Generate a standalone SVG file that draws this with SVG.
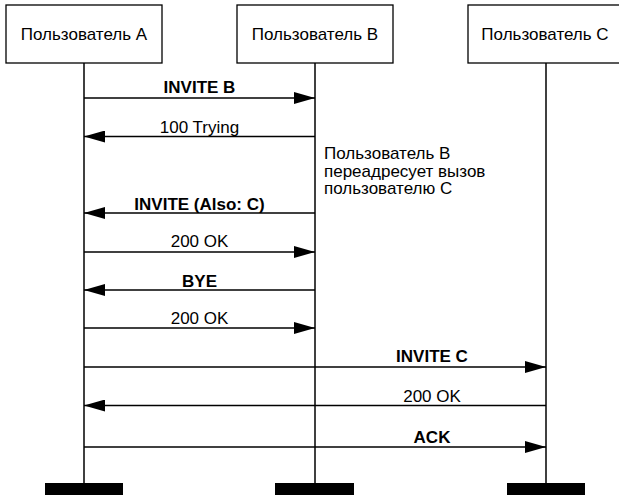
<svg xmlns="http://www.w3.org/2000/svg" width="619" height="495" viewBox="0 0 619 495">
<style>
.box{fill:#fff;stroke:#000;stroke-width:1.3}
.life{stroke:#000;stroke-width:1.5;fill:none}
.msg{stroke:#000;stroke-width:1.3;fill:none;marker-end:url(#ah)}
.bar{fill:#000}
text{font-family:"Liberation Sans",Arial,sans-serif;font-size:17px;fill:#000}
.lbl{text-anchor:middle}
.b{font-weight:bold}
</style>
<defs>
<marker id="ah" markerUnits="userSpaceOnUse" markerWidth="22" markerHeight="12" refX="21" refY="6" orient="auto">
<path d="M0,0 L21,6 L0,12 z" fill="#000"/>
</marker>
</defs>
<g id="userA">
<rect class="box" x="6" y="5" width="156" height="58"/>
<text class="lbl" x="84" y="40">Пользователь A</text>
<line class="life" x1="84" y1="63" x2="84" y2="483"/>
<rect class="bar" x="45" y="483" width="78" height="12"/>
</g>
<g id="userB">
<rect class="box" x="237" y="5" width="156" height="58"/>
<text class="lbl" x="315" y="40">Пользователь B</text>
<line class="life" x1="315" y1="63" x2="315" y2="483"/>
<rect class="bar" x="275" y="483" width="79" height="12"/>
</g>
<g id="userC">
<rect class="box" x="468" y="5" width="156" height="58"/>
<text class="lbl" x="545" y="40">Пользователь C</text>
<line class="life" x1="546" y1="63" x2="546" y2="483"/>
<rect class="bar" x="507" y="483" width="78" height="12"/>
</g>
<g id="note">
<text x="324" y="159">Пользователь B</text>
<text x="324" y="176.5">переадресует вызов</text>
<text x="324" y="194">пользователю C</text>
</g>
<g id="connectors">
<line class="msg" x1="84" y1="98" x2="315" y2="98"/>
<text class="lbl b" x="199.5" y="93">INVITE B</text>
<line class="msg" x1="315" y1="136.5" x2="84" y2="136.5"/>
<text class="lbl" x="199.5" y="133">100 Trying</text>
<line class="msg" x1="315" y1="213" x2="84" y2="213"/>
<text class="lbl b" x="199.5" y="210">INVITE (Also: C)</text>
<line class="msg" x1="84" y1="252" x2="315" y2="252"/>
<text class="lbl" x="199.5" y="247">200 OK</text>
<line class="msg" x1="315" y1="290" x2="84" y2="290"/>
<text class="lbl b" x="199.5" y="287">BYE</text>
<line class="msg" x1="84" y1="328" x2="315" y2="328"/>
<text class="lbl" x="199.5" y="324">200 OK</text>
<line class="msg" x1="84" y1="367" x2="546" y2="367"/>
<text class="lbl b" x="432" y="362">INVITE C</text>
<line class="msg" x1="546" y1="405.5" x2="84" y2="405.5"/>
<text class="lbl" x="432" y="402">200 OK</text>
<line class="msg" x1="84" y1="447" x2="546" y2="447"/>
<text class="lbl b" x="432" y="443">ACK</text>
</g>
</svg>
